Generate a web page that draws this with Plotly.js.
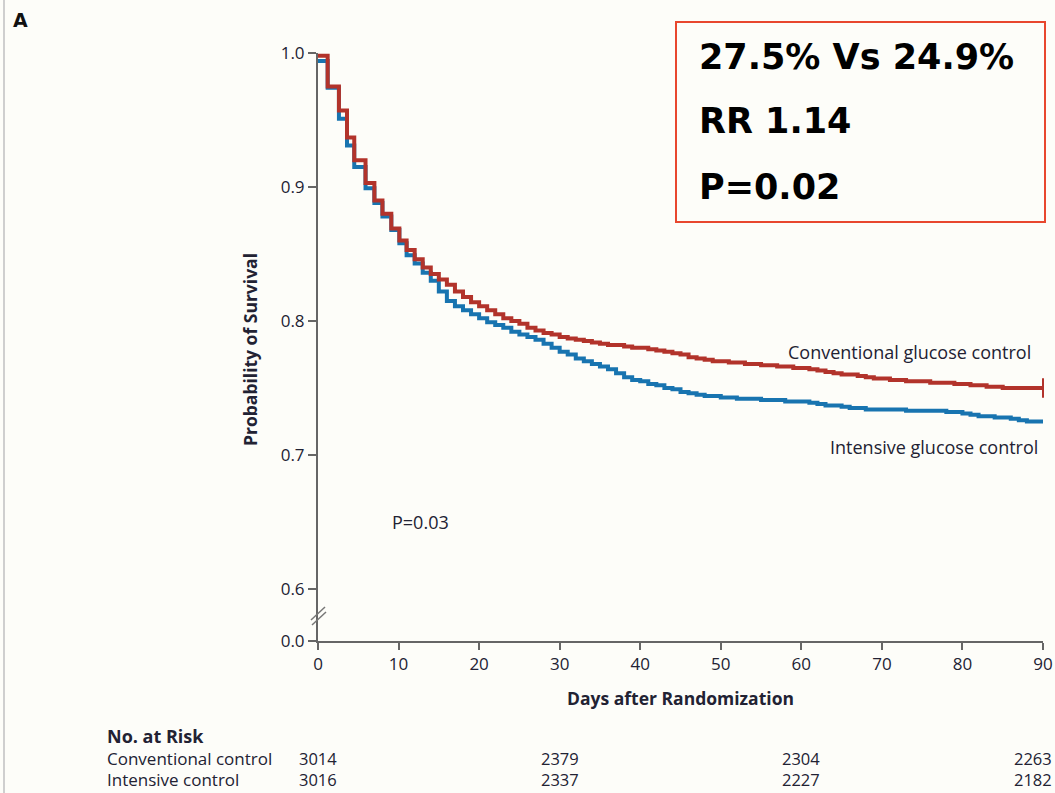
<!DOCTYPE html>
<html>
<head>
<meta charset="utf-8">
<script src="https://cdn.plot.ly/plotly-3.0.1.min.js"></script>
<style>
html,body{margin:0;padding:0;background:#fdfdf9;}
#chart{width:1055px;height:793px;}
</style>
</head>
<body>
<div id="chart"></div>
<script>
// ---- data ----
const days = [0,1.2,2.6,3.6,4.5,5.9,7.0,8.0,9.1,10.1,
  11,12,13,14,15,16,17,18,19,20,
  21,22,23,24,25,26,27,28,29,30,
  31,32,33,34,35,36,37,38,39,40,
  41,42,43,44,45,46,47,48,49,50,
  51,52,53,54,55,56,57,58,59,60,
  61,62,63,64,65,66,67,68,69,70,
  71,72,73,74,75,76,77,78,79,80,
  81,82,83,84,85,86,87,88,89,90];
const conventionalSurvival = [0.998,0.975,0.957,0.937,0.920,0.903,0.890,0.880,0.869,0.860,
  0.853,0.846,0.840,0.835,0.831,0.827,0.822,0.818,0.814,0.811,
  0.808,0.805,0.802,0.800,0.798,0.795,0.793,0.791,0.790,0.788,
  0.787,0.786,0.785,0.784,0.783,0.782,0.782,0.781,0.780,0.780,
  0.779,0.778,0.777,0.776,0.775,0.773,0.772,0.771,0.770,0.770,
  0.769,0.769,0.768,0.768,0.767,0.767,0.766,0.766,0.765,0.765,
  0.764,0.763,0.762,0.761,0.760,0.760,0.759,0.758,0.757,0.757,
  0.756,0.756,0.755,0.755,0.755,0.754,0.754,0.754,0.753,0.753,
  0.752,0.752,0.751,0.751,0.750,0.750,0.750,0.750,0.750,0.750];
const intensiveSurvival = [0.994,0.974,0.951,0.931,0.915,0.899,0.888,0.878,0.868,0.858,
  0.849,0.843,0.836,0.830,0.822,0.815,0.811,0.808,0.805,0.802,
  0.799,0.797,0.795,0.792,0.790,0.788,0.786,0.783,0.780,0.777,
  0.775,0.772,0.770,0.768,0.766,0.764,0.761,0.758,0.756,0.755,
  0.753,0.752,0.750,0.749,0.747,0.746,0.745,0.744,0.744,0.743,
  0.743,0.742,0.742,0.742,0.741,0.741,0.741,0.740,0.740,0.740,
  0.739,0.738,0.737,0.737,0.736,0.735,0.735,0.734,0.734,0.734,
  0.734,0.734,0.733,0.733,0.733,0.733,0.733,0.732,0.732,0.731,
  0.730,0.729,0.729,0.728,0.728,0.727,0.726,0.725,0.725,0.724];
const riskDays = [0, 30, 60, 90];
const riskConventional = [3014, 2379, 2304, 2263];
const riskIntensive = [3016, 2337, 2227, 2182];
const riskRowLabels = ["Conventional control", "Intensive control"];
const yTicks = [0.6, 0.7, 0.8, 0.9, 1.0];
const yBreakTicks = [0.0];
const xTicks = [0,10,20,30,40,50,60,70,80,90];
const seriesLabels = ["Conventional glucose control", "Intensive glucose control"];
const boxLines = ["27.5% Vs 24.9%", "RR 1.14", "P=0.02"];

// ---- layout helpers (pixel -> paper) ----
const W = 1055, H = 793, L = 318, R = 12, T = 53, B = 152;
const PW = W - L - R, PH = H - T - B;
const px = x => (x - L) / PW;
const py = y => (H - B - y) / PH;
const split = py(615);

const RED = '#b2332b', BLUE = '#1874b0';
const TXT = '#222233';
const FONT = '"Open Sans", "Noto Sans", sans-serif';
const ROW1 = 758, ROW2 = 779;

const traces = [
  {x: days, y: intensiveSurvival, type: 'scatter', mode: 'lines', line: {shape: 'hv', color: BLUE, width: 4}, cliponaxis: false, hoverinfo: 'skip', name: seriesLabels[1]},
  {x: days, y: conventionalSurvival, type: 'scatter', mode: 'lines', line: {shape: 'hv', color: RED, width: 4}, cliponaxis: false, hoverinfo: 'skip', name: seriesLabels[0]},
  {x: [days[days.length-1]], y: [conventionalSurvival[conventionalSurvival.length-1]], type: 'scatter', mode: 'markers',
   marker: {symbol: 'line-ns-open', size: 14, color: RED, line: {color: RED, width: 2}}, cliponaxis: false, hoverinfo: 'skip', showlegend: false},
  // invisible anchor trace so the broken lower axis segment (0.0) exists
  {x: [xTicks[0]], y: [yBreakTicks[0]], xaxis: 'x', yaxis: 'y2', type: 'scatter', mode: 'markers', marker: {opacity: 0}, hoverinfo: 'skip', showlegend: false}
];

const annotations = [
  {text: '<b>A</b>', xref: 'paper', yref: 'paper', x: px(11), y: py(20), xanchor: 'left', yanchor: 'middle', showarrow: false, font: {family: 'DejaVu Sans', size: 19, color: '#111'}},
  {text: '<b>Probability of Survival</b>', xref: 'paper', yref: 'paper', x: px(250), y: py(350), textangle: -90, xanchor: 'center', yanchor: 'middle', showarrow: false, font: {family: FONT, size: 17.5, color: TXT}},
  {text: seriesLabels[0], xref: 'paper', yref: 'paper', x: px(1033), y: py(352), xanchor: 'right', yanchor: 'middle', showarrow: false, font: {family: FONT, size: 18, color: TXT}},
  {text: seriesLabels[1], xref: 'paper', yref: 'paper', x: px(1040), y: py(447), xanchor: 'right', yanchor: 'middle', showarrow: false, font: {family: FONT, size: 18, color: TXT}},
  {text: 'P=0.03', xref: 'paper', yref: 'paper', x: px(390), y: py(522), xanchor: 'left', yanchor: 'middle', showarrow: false, font: {family: FONT, size: 18, color: TXT}},
  {text: '<b>No. at Risk</b>', xref: 'paper', yref: 'paper', x: px(105), y: py(736), xanchor: 'left', yanchor: 'middle', showarrow: false, font: {family: FONT, size: 18, color: TXT}},
  {text: riskRowLabels[0], xref: 'paper', yref: 'paper', x: px(105), y: py(ROW1), xanchor: 'left', yanchor: 'middle', showarrow: false, font: {family: FONT, size: 17, color: TXT}},
  {text: riskRowLabels[1], xref: 'paper', yref: 'paper', x: px(105), y: py(ROW2), xanchor: 'left', yanchor: 'middle', showarrow: false, font: {family: FONT, size: 17, color: TXT}}
];
boxLines.forEach((t, i) => {
  annotations.push({text: '<b>' + t + '</b>', xref: 'paper', yref: 'paper', x: px(697), y: py([57, 121, 187][i]), xanchor: 'left', yanchor: 'middle', showarrow: false, font: {family: 'DejaVu Sans', size: 35, color: '#000'}});
});
riskDays.forEach((d, i) => {
  const last = i === riskDays.length - 1;
  const pos = last ? {xref: 'paper', x: px(1054), xanchor: 'right'} : {xref: 'x', x: d, xanchor: 'center'};
  annotations.push(Object.assign({text: String(riskConventional[i]), yref: 'paper', y: py(ROW1), yanchor: 'middle', showarrow: false, font: {family: FONT, size: 16.5, color: TXT}}, pos));
  annotations.push(Object.assign({text: String(riskIntensive[i]), yref: 'paper', y: py(ROW2), yanchor: 'middle', showarrow: false, font: {family: FONT, size: 16.5, color: TXT}}, pos));
});

const shapes = [
  {type: 'rect', xref: 'paper', yref: 'paper', x0: px(676), x1: px(1045), y0: py(22), y1: py(222), line: {color: '#e8472e', width: 2}},
  {type: 'line', xref: 'paper', yref: 'paper', x0: px(4), x1: px(4), y0: py(0), y1: py(793), line: {color: '#cfcfcf', width: 2}},
  {type: 'line', xref: 'paper', yref: 'paper', x0: px(311), x1: px(325), y0: py(620), y1: py(607), line: {color: '#777', width: 1.5}},
  {type: 'line', xref: 'paper', yref: 'paper', x0: px(312), x1: px(326), y0: py(625), y1: py(612), line: {color: '#777', width: 1.5}}
];

const axisCommon = {showgrid: false, zeroline: false, showline: true, linecolor: '#666', linewidth: 2, ticks: 'outside', tickcolor: '#666', tickwidth: 2, ticklen: 8,
  tickfont: {family: FONT, size: 17, color: TXT}};

const layout = {
  width: W, height: H,
  margin: {l: L, r: R, t: T, b: B, pad: 0},
  paper_bgcolor: '#fdfdf9', plot_bgcolor: '#fdfdf9',
  showlegend: false,
  xaxis: Object.assign({}, axisCommon, {range: [0, 90], tickvals: xTicks, anchor: 'y2', ticklen: 7,
    title: {text: '<b>Days after Randomization</b>', font: {family: FONT, size: 17.5, color: TXT}, standoff: 18}}),
  yaxis: Object.assign({}, axisCommon, {domain: [split, 1], range: [0.6 - 26/1340, 1.0], tickvals: yTicks, tickformat: '.1f', anchor: 'x'}),
  yaxis2: Object.assign({}, axisCommon, {domain: [0, split], range: [0, 26/1340], tickvals: yBreakTicks, tickformat: '.1f', anchor: 'x'}),
  annotations: annotations,
  shapes: shapes
};

Plotly.newPlot('chart', traces, layout, {displayModeBar: false, staticPlot: true});
</script>
</body>
</html>
